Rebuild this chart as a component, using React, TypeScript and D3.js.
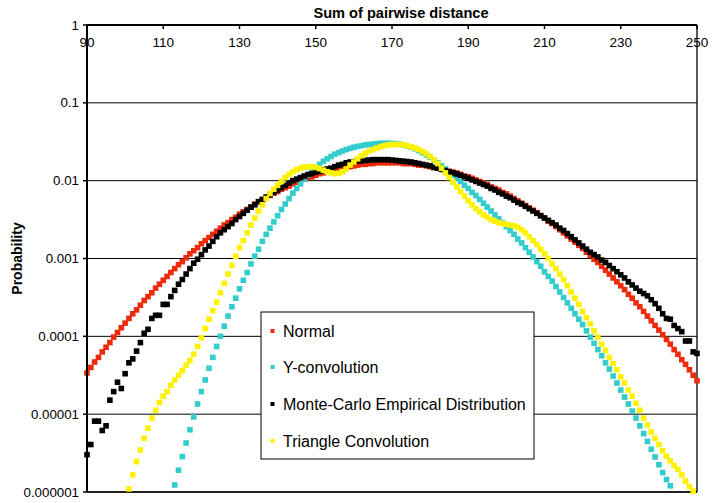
import React from 'react';
import * as d3 from 'd3';

// ---- Data (log10 of probability) ----
const xTicks = [90, 110, 130, 150, 170, 190, 210, 230, 250];
const yTicks = [1, 0.1, 0.01, 0.001, 0.0001, 0.00001, 0.000001];
const yTickLabels = ['1', '0.1', '0.01', '0.001', '0.0001', '0.00001', '0.000001'];
const seriesNames = ['Normal', 'Y-convolution', 'Monte-Carlo Empirical Distribution', 'Triangle Convolution'];
const seriesColors = ['#EE2A0C', '#33CCCC', '#000000', '#FFF200'];

const normalStart = 90;
const normalLog10 = [
  -4.47, -4.40, -4.33, -4.27, -4.20, -4.14, -4.08, -4.01, -3.95, -3.89,
  -3.83, -3.77, -3.71, -3.66, -3.60, -3.54, -3.49, -3.44, -3.38, -3.33,
  -3.28, -3.23, -3.18, -3.13, -3.08, -3.04, -2.99, -2.94, -2.90, -2.86,
  -2.81, -2.77, -2.73, -2.69, -2.65, -2.61, -2.57, -2.54, -2.50, -2.47,
  -2.43, -2.40, -2.37, -2.34, -2.30, -2.27, -2.25, -2.22, -2.19, -2.16,
  -2.14, -2.11, -2.09, -2.07, -2.04, -2.02, -2.00, -1.98, -1.96, -1.95,
  -1.93, -1.91, -1.90, -1.88, -1.87, -1.86, -1.85, -1.83, -1.82, -1.82,
  -1.81, -1.80, -1.79, -1.79, -1.78, -1.78, -1.77, -1.77, -1.77, -1.77,
  -1.77, -1.77, -1.77, -1.78, -1.78, -1.78, -1.79, -1.80, -1.80, -1.81,
  -1.82, -1.83, -1.84, -1.85, -1.86, -1.88, -1.89, -1.90, -1.92, -1.94,
  -1.95, -1.97, -1.99, -2.01, -2.03, -2.05, -2.08, -2.10, -2.12, -2.15,
  -2.17, -2.20, -2.23, -2.26, -2.29, -2.32, -2.35, -2.38, -2.41, -2.45,
  -2.48, -2.52, -2.55, -2.59, -2.63, -2.67, -2.71, -2.75, -2.79, -2.83,
  -2.87, -2.92, -2.96, -3.01, -3.05, -3.10, -3.15, -3.20, -3.25, -3.30,
  -3.35, -3.40, -3.46, -3.51, -3.57, -3.62, -3.68, -3.74, -3.80, -3.86,
  -3.92, -3.98, -4.04, -4.10, -4.17, -4.23, -4.30, -4.36, -4.43, -4.50,
  -4.57,
];

const yConvStart = 113;
const yConvLog10 = [
  -5.91, -5.72, -5.545, -5.37, -5.20, -5.035, -4.87,
  -4.71, -4.56, -4.41, -4.27, -4.13, -4.00, -3.87, -3.74, -3.62, -3.51,
  -3.39, -3.28, -3.18, -3.07, -2.97, -2.88, -2.78, -2.69, -2.61, -2.53,
  -2.45, -2.37, -2.30, -2.23, -2.16, -2.10, -2.04, -1.98, -1.93, -1.88,
  -1.83, -1.79, -1.75, -1.72, -1.69, -1.66, -1.64, -1.62, -1.60, -1.585,
  -1.57, -1.56, -1.55, -1.54, -1.535, -1.53, -1.525, -1.52, -1.52, -1.52,
  -1.52, -1.525, -1.53, -1.54, -1.555, -1.57, -1.59, -1.615, -1.64, -1.67,
  -1.70, -1.735, -1.77, -1.81, -1.85, -1.89, -1.93, -1.97, -2.01, -2.06,
  -2.10, -2.15, -2.19, -2.24, -2.29, -2.34, -2.39, -2.44, -2.49, -2.54,
  -2.59, -2.64, -2.69, -2.75, -2.80, -2.86, -2.92, -2.98, -3.04, -3.10,
  -3.17, -3.23, -3.29, -3.36, -3.43, -3.50, -3.57, -3.64, -3.71, -3.78,
  -3.85, -3.93, -4.01, -4.09, -4.17, -4.25, -4.34, -4.42, -4.51, -4.60,
  -4.69, -4.78, -4.87, -4.96, -5.05, -5.15, -5.25, -5.35, -5.45, -5.55,
  -5.65, -5.75, -5.84, -5.92,
];

const monteCarloStart = 90;
const monteCarloLog10 = [
  -5.52, -5.39, -5.09, -5.09, -5.21, -5.15, -4.82, -4.71, -4.59, -4.67,
  -4.48, -4.34, -4.29, -4.19, -4.08, -3.96, -3.91, -3.77, -3.73, -3.73,
  -3.59, -3.59, -3.49, -3.41, -3.33, -3.27, -3.20, -3.13, -3.06, -3.01,
  -2.95, -2.89, -2.84, -2.78, -2.72, -2.67, -2.63, -2.59, -2.55, -2.50,
  -2.46, -2.42, -2.38, -2.34, -2.31, -2.27, -2.24, -2.21, -2.18, -2.15,
  -2.12, -2.09, -2.06, -2.03, -2.00, -1.98, -1.96, -1.94, -1.92, -1.91,
  -1.89, -1.88, -1.86, -1.85, -1.84, -1.82, -1.80, -1.79, -1.77, -1.76,
  -1.755, -1.75, -1.745, -1.74, -1.735, -1.73, -1.73, -1.73, -1.73, -1.73,
  -1.735, -1.74, -1.745, -1.75, -1.755, -1.76, -1.77, -1.78, -1.79, -1.80,
  -1.81, -1.83, -1.84, -1.855, -1.87, -1.885, -1.90, -1.915, -1.93, -1.95,
  -1.97, -1.99, -2.01, -2.03, -2.05, -2.07, -2.10, -2.12, -2.15, -2.17,
  -2.20, -2.22, -2.25, -2.28, -2.30, -2.33, -2.36, -2.39, -2.42, -2.45,
  -2.48, -2.51, -2.54, -2.57, -2.61, -2.64, -2.68, -2.72, -2.76, -2.80,
  -2.84, -2.88, -2.92, -2.95, -2.98, -3.02, -3.05, -3.09, -3.13, -3.17,
  -3.21, -3.25, -3.30, -3.34, -3.38, -3.42, -3.45, -3.48, -3.53, -3.58,
  -3.64, -3.71, -3.77, -3.78, -3.86, -3.90, -3.94, -4.06, -4.06, -4.20,
  -4.22,
];

const triangleStart = 101;
const triangleLog10 = [
  -5.96, -5.78, -5.61, -5.46, -5.31, -5.18, -5.05, -4.95, -4.85,
  -4.77, -4.71, -4.63, -4.56, -4.50, -4.44, -4.37, -4.31, -4.23, -4.13,
  -4.02, -3.90, -3.78, -3.67, -3.56, -3.44, -3.32, -3.20, -3.09, -2.97,
  -2.86, -2.77, -2.67, -2.57, -2.48, -2.39, -2.31, -2.23, -2.165, -2.11,
  -2.06, -2.01, -1.96, -1.92, -1.885, -1.86, -1.84, -1.825, -1.82, -1.82,
  -1.83, -1.845, -1.865, -1.885, -1.90, -1.91, -1.905, -1.885, -1.85, -1.80,
  -1.76, -1.72, -1.68, -1.65, -1.62, -1.60, -1.58, -1.565, -1.55, -1.54,
  -1.535, -1.535, -1.535, -1.54, -1.55, -1.565, -1.58, -1.60, -1.625, -1.655,
  -1.69, -1.73, -1.78, -1.84, -1.90, -1.96, -2.02, -2.08, -2.14, -2.20,
  -2.26, -2.31, -2.36, -2.40, -2.44, -2.47, -2.50, -2.52, -2.54, -2.55,
  -2.56, -2.57, -2.58, -2.60, -2.63, -2.67, -2.72, -2.77, -2.82, -2.88,
  -2.94, -3.00, -3.07, -3.13, -3.20, -3.27, -3.35, -3.43, -3.51, -3.59,
  -3.68, -3.76, -3.84, -3.93, -4.01, -4.10, -4.18, -4.27, -4.35, -4.43,
  -4.52, -4.60, -4.69, -4.77, -4.86, -4.95, -5.05, -5.14, -5.23, -5.31,
  -5.39, -5.47, -5.54, -5.60, -5.66, -5.71, -5.78, -5.86, -5.93, -5.99,
];

const seriesStarts = [normalStart, yConvStart, monteCarloStart, triangleStart];
const seriesLogs = [normalLog10, yConvLog10, monteCarloLog10, triangleLog10];

const W = 714, H = 503;
const M = { left: 87, right: 697, top: 25, bottom: 492 };
const FONT = "Arial, 'Liberation Sans', Helvetica, sans-serif";

export default function App() {
  const x = d3.scaleLinear().domain([90, 250]).range([M.left, M.right]);
  const y = d3.scaleLog().domain([1e-6, 1]).range([M.bottom, M.top]);
  const ms = 5.6;

  const series = seriesNames.map((name, i) => ({
    name,
    color: seriesColors[i],
    points: seriesLogs[i].map((lv, j) => ({ v: seriesStarts[i] + j, p: Math.pow(10, lv) })),
  }));

  const legend = { x: 261, y: 312, w: 273, h: 147 };
  const legendRows = [331, 367, 404, 441];

  return (
    <svg width={W} height={H} style={{ position: 'absolute', left: 0, top: 0, background: '#fff' }}
      fontFamily={FONT}>
      <rect x={0} y={0} width={W} height={H} fill="#fff" />
      {/* gridlines */}
      {yTicks.map((t) => (
        <line key={'g' + t} x1={M.left} x2={M.right} y1={y(t)} y2={y(t)} stroke="#000" strokeWidth={1} />
      ))}
      {/* plot border right and bottom */}
      <line x1={M.right} x2={M.right} y1={M.top} y2={M.bottom} stroke="#000" strokeWidth={1.3} />
      <line x1={M.left} x2={M.right} y1={M.bottom} y2={M.bottom} stroke="#000" strokeWidth={1.3} />
      {/* markers */}
      {series.map((s) => (
        <g key={s.name} fill={s.color}>
          {s.points.map((d) => (
            <rect key={d.v} x={x(d.v) - ms / 2} y={y(d.p) - ms / 2} width={ms} height={ms} />
          ))}
        </g>
      ))}
      {/* axes */}
      <line x1={M.left} x2={M.right} y1={M.top} y2={M.top} stroke="#000" strokeWidth={2} />
      <line x1={M.left} x2={M.left} y1={M.top} y2={M.bottom} stroke="#000" strokeWidth={2} />
      {xTicks.map((t) => (
        <g key={'x' + t}>
          <line x1={x(t)} x2={x(t)} y1={M.top} y2={M.top + 4} stroke="#000" strokeWidth={1.5} />
          <text x={x(t)} y={46.5} textAnchor="middle" fontSize={13.5} fill="#000">{t}</text>
        </g>
      ))}
      {yTicks.map((t, i) => (
        <g key={'y' + t}>
          <line x1={M.left - 4} x2={M.left} y1={y(t)} y2={y(t)} stroke="#000" strokeWidth={1.5} />
          <text x={79} y={y(t) + 4.6} textAnchor="end" fontSize={13.3} fill="#000">{yTickLabels[i]}</text>
        </g>
      ))}
      {/* titles */}
      <text x={401} y={18} textAnchor="middle" fontSize={14.6} fontWeight="bold">
        Sum of pairwise distance
      </text>
      <text transform={`translate(22,${(M.top + M.bottom) / 2}) rotate(-90)`} textAnchor="middle"
        fontSize={14} fontWeight="bold">Probability</text>
      {/* legend */}
      <rect x={legend.x} y={legend.y} width={legend.w} height={legend.h} fill="#fff" stroke="#000" strokeWidth={1} />
      {series.map((s, i) => (
        <g key={'l' + s.name}>
          <rect x={270.5} y={legendRows[i] - 2} width={4} height={4} fill={s.color} />
          <text x={283} y={legendRows[i] + 5.5} fontSize={16} fill="#000">{s.name}</text>
        </g>
      ))}
    </svg>
  );
}
